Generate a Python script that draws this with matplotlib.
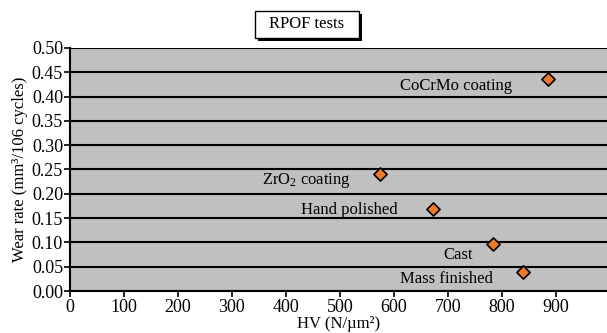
import matplotlib.pyplot as plt
from matplotlib.patches import Rectangle
import numpy as np

plt.rc('font', family='Liberation Serif', size=12)
plt.rc('mathtext', fontset='custom', rm='Liberation Serif', it='Liberation Serif:italic')

# data
labels = ['CoCrMo coating', 'ZrO$_2$ coating', 'Hand polished', 'Cast', 'Mass finished']
hv = [885, 574, 672, 783, 839]
wear = [0.437, 0.241, 0.169, 0.097, 0.039]
# label offsets (points) relative to each marker
offsets = [(-66, -5), (-53, -5), (-60, -1), (-25, -8), (-55, -5)]

fig = plt.figure(figsize=(6.07, 3.33), dpi=100)
ax = fig.add_axes([0.1153, 0.126, 0.885, 0.730])
ax.set_facecolor('#c0c0c0')

ax.set_xlim(0, 995)
ax.set_ylim(0, 0.5)
ax.set_xticks(np.arange(0, 1000, 100))
ax.set_yticks(np.arange(0, 0.501, 0.05))
ax.set_yticklabels(['%.2f' % v for v in np.arange(0, 0.501, 0.05)])
ax.yaxis.grid(True, color='black', lw=1.5)
ax.set_axisbelow(True)
ax.tick_params(direction='out', length=4, width=1.2, color='black', labelsize=13, pad=1)
ax.tick_params(axis='x', pad=2)

for s in ['right', 'top']:
    ax.spines[s].set_visible(False)
ax.spines['left'].set_linewidth(1.5)
ax.spines['bottom'].set_linewidth(1.5)

ax.scatter(hv, wear, marker='D', s=45, color='#ec7a2a', edgecolor='black', lw=1.2, zorder=5)
for lab, x, y, off in zip(labels, hv, wear, offsets):
    ax.annotate(lab, (x, y), xytext=off, textcoords='offset points',
                ha='center', va='center', fontsize=12)

ax.set_xlabel('HV (N/µm²)', fontsize=12, labelpad=0)
ax.set_ylabel('Wear rate (mm³/106 cycles)', fontsize=12, labelpad=3)

# title box with drop shadow
W, H = 607.0, 333.0
fig.patches.append(Rectangle(((255 + 3) / W, 1 - (38 + 3) / H), 104 / W, 27 / H,
                             transform=fig.transFigure, fc='black', ec='none'))
fig.patches.append(Rectangle((255 / W, 1 - 38 / H), 104 / W, 27 / H,
                             transform=fig.transFigure, fc='white', ec='black', lw=1))
fig.text(307 / W, 1 - 24.5 / H, 'RPOF tests', ha='center', va='center', fontsize=12)

plt.savefig('out.png', dpi=100)
